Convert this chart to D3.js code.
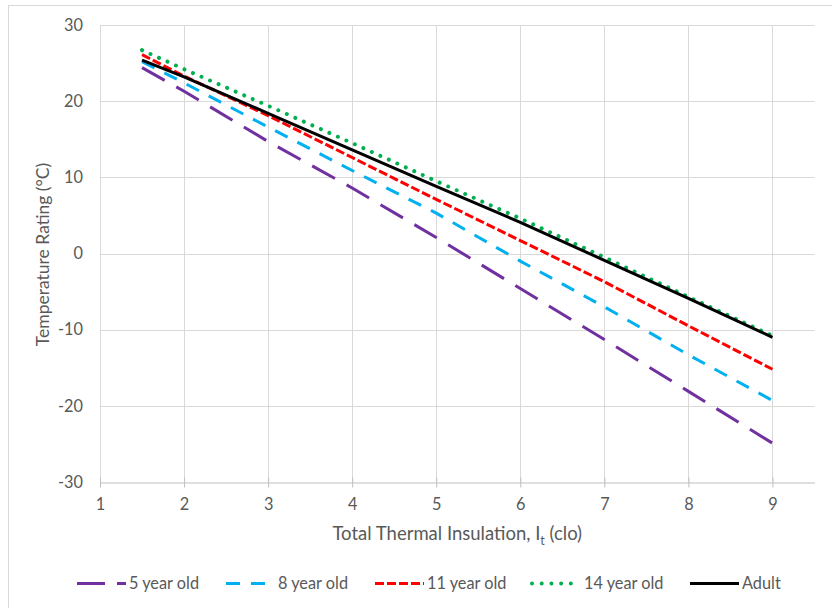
<!DOCTYPE html>
<html><head><meta charset="utf-8">
<script src="https://cdn.jsdelivr.net/npm/d3@7"></script>
<style>html,body{margin:0;padding:0;background:#fff;}svg{display:block;font-family:Lato,"Open Sans",sans-serif;}</style>
</head><body><svg id="c" width="832" height="608"></svg>
<script>
const xValues = [1.5, 2, 3, 4, 5, 6, 7, 8, 9];
const age5 = [24.4, 21.3, 14.7, 8.6, 2.1, -4.6, -11.3, -18.1, -24.9];
const age8 = [25.2, 22.4, 16.6, 10.9, 5.3, -1.0, -7.0, -13.3, -19.3];
const age11 = [26.1, 23.3, 18.1, 12.6, 7.1, 1.7, -3.7, -9.5, -15.2];
const age14 = [26.7, 24.2, 19.4, 14.5, 9.5, 4.6, -0.5, -5.7, -10.8];
const adult = [25.4, 23.2, 18.4, 13.6, 8.8, 4.1, -0.9, -5.9, -11.0];
const seriesNames = ["5 year old", "8 year old", "11 year old", "14 year old", "Adult"];
const xTicks = [1, 2, 3, 4, 5, 6, 7, 8, 9];
const yTicks = [-30, -20, -10, 0, 10, 20, 30];

const styles = [
  {color: "#7030a0", dash: "26,13.3", cap: "butt", w: 3},
  {color: "#00b0f0", dash: "14,11", cap: "butt", w: 3},
  {color: "#ff0000", dash: "9,3", cap: "butt", w: 3},
  {color: "#00b050", dash: "0.01,9.3", cap: "round", w: 4},
  {color: "#000000", dash: null, cap: "butt", w: 3}
];
const allSeries = [age5, age8, age11, age14, adult];

const svg = d3.select("#c");
const L = 100, R = 814.5, T = 25, B = 482;
const x = d3.scaleLinear().domain([1, 9.5]).range([L, R]);
const y = d3.scaleLinear().domain([-30, 30]).range([B, T]);
const fmt = d => String(d);

// outer border
svg.append("rect").attr("x", 8.5).attr("y", 5.5).attr("width", 900).attr("height", 700)
  .attr("fill", "none").attr("stroke", "#d9d9d9").attr("stroke-width", 1);

// gridlines
const g = svg.append("g");
g.selectAll(".hg").data(yTicks.filter(d => d !== -30)).enter().append("line")
  .attr("x1", L).attr("x2", R).attr("y1", d => Math.round(y(d)) + 0.5).attr("y2", d => Math.round(y(d)) + 0.5)
  .attr("stroke", "#d9d9d9").attr("stroke-width", 1);
g.selectAll(".vg").data(xTicks).enter().append("line")
  .attr("y1", T).attr("y2", B).attr("x1", d => Math.round(x(d)) + 0.5).attr("x2", d => Math.round(x(d)) + 0.5)
  .attr("stroke", "#d9d9d9").attr("stroke-width", 1);

// x axis
const xAxis = d3.axisBottom(x).tickValues(xTicks).tickFormat(fmt).tickSize(5).tickSizeOuter(0).tickPadding(11);
const xa = svg.append("g").attr("transform", `translate(0,${Math.round(y(-30)) + 0.5})`).call(xAxis);
xa.select(".domain").attr("stroke", "#bfbfbf");
xa.selectAll(".tick line").attr("stroke", "#bfbfbf").attr("y1", -5).attr("y2", 5);
xa.selectAll(".tick text").attr("fill", "#595959").attr("font-size", 16.3).attr("font-family", "Lato");

// y axis labels
const ya = svg.append("g").attr("transform", `translate(${L},0)`).call(d3.axisLeft(y).tickValues(yTicks).tickFormat(fmt).tickSize(0).tickPadding(17));
ya.select(".domain").remove();
ya.selectAll(".tick text").attr("fill", "#595959").attr("font-size", 16.3).attr("font-family", "Lato");

// axis titles
const xt = svg.append("text").attr("x", (L + R) / 2).attr("y", 540).attr("text-anchor", "middle")
  .attr("fill", "#595959").attr("font-size", 18.5);
xt.append("tspan").text("Total Thermal Insulation, I");
xt.append("tspan").text("t").attr("font-size", 12.5).attr("dy", 5);
xt.append("tspan").text(" (clo)").attr("dy", -5);

svg.append("text").attr("transform", `translate(49,${(T + B) / 2 + 1}) rotate(-90)`).attr("text-anchor", "middle")
  .attr("fill", "#595959").attr("font-size", 17.5).text("Temperature Rating (°C)");

// lines
const line = d3.line().x((d, i) => x(xValues[i])).y(d => y(d));
allSeries.forEach((s, k) => {
  const st = styles[k];
  const p = svg.append("path").datum(s).attr("d", line).attr("fill", "none")
    .attr("stroke", st.color).attr("stroke-width", st.w).attr("stroke-linecap", st.cap).attr("stroke-linejoin", "round");
  if (st.dash) p.attr("stroke-dasharray", st.dash);
});

// legend
const legX = [77, 226, 375, 532, 690];
const legLen = [49, 49, 49, 40, 49];
const lg = svg.append("g");
seriesNames.forEach((n, k) => {
  const st = styles[k];
  const l = lg.append("line").attr("x1", legX[k]).attr("x2", legX[k] + legLen[k]).attr("y1", 583.5).attr("y2", 583.5)
    .attr("stroke", st.color).attr("stroke-width", st.w).attr("stroke-linecap", st.cap);
  if (st.dash) l.attr("stroke-dasharray", k === 0 ? "28,12" : (k === 3 ? "0.01,9.7" : st.dash));
  lg.append("text").attr("x", legX[k] + 52).attr("y", 589).attr("fill", "#595959").attr("font-size", 16.3).text(n);
});
</script></body></html>
